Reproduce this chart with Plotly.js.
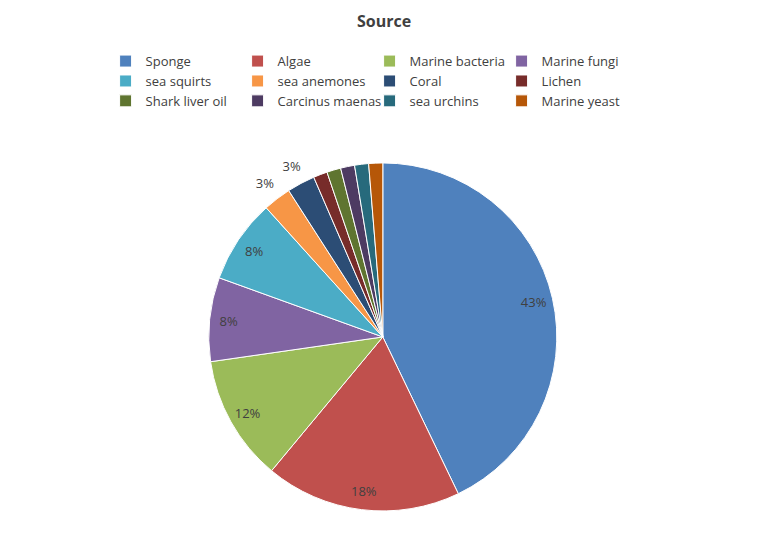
<!DOCTYPE html>
<html>
<head>
<meta charset="utf-8">
<script src="https://cdn.plot.ly/plotly-3.0.1.min.js"></script>
<style>
  html, body { margin: 0; padding: 0; background: #fff; }
  #chart { width: 768px; height: 550px; }
</style>
</head>
<body>
<div id="chart"></div>
<script>
// sources of marine compounds, counts
const sources = [
  "Sponge", "Algae", "Marine bacteria", "Marine fungi",
  "sea squirts", "sea anemones", "Coral", "Lichen",
  "Shark liver oil", "Carcinus maenas", "sea urchins", "Marine yeast",
];
const counts = [33, 14, 9, 6, 6, 2, 2, 1, 1, 1, 1, 1];
const sliceColors = [
  "#4F81BD", "#C0504D", "#9BBB59", "#8064A2",
  "#4BACC6", "#F79646", "#2C4D75", "#772C2A",
  "#5F7530", "#4D3B62", "#276A7C", "#B65708",
];

const textColor = "#404040";
const labelFont = { family: "Open Sans, sans-serif", size: 13, color: textColor };
const clear = counts.map(() => "rgba(0,0,0,0)");

// excel puts labels near the rim, so the labels come from see-through rings
const pieDomain = { x: [0.208, 0.788], y: [0.0765, 0.759] };
const outerDomain = { x: [0.1483, 0.8483], y: [0.0059, 0.8294] };

let pieTrace = {
  type: "pie",
  labels: sources,
  values: counts,
  sort: false,
  direction: "clockwise",
  rotation: 0,
  textinfo: "none",
  marker: {
    colors: sliceColors,
    line: { color: "#ffffff", width: 1 },
  },
  domain: pieDomain,
};

// labels of the bigger slices, just inside the rim
let rimLabels = {
  type: "pie",
  labels: sources,
  values: counts,
  sort: false,
  direction: "clockwise",
  rotation: 0,
  hole: 0.78,
  showlegend: false,
  texttemplate: "%{percent:.0%}",
  textposition: counts.map((c) => (c >= 5 ? "inside" : "none")),
  insidetextorientation: "horizontal",
  textfont: labelFont,
  insidetextfont: labelFont,
  marker: { colors: clear, line: { width: 0 } },
  domain: pieDomain,
};

// labels of the 3% slices, just outside the rim
let outerLabels = {
  type: "pie",
  labels: sources,
  values: counts,
  sort: false,
  direction: "clockwise",
  rotation: 0,
  hole: 0.838,
  showlegend: false,
  texttemplate: "%{percent:.0%}",
  textposition: counts.map((c) => (c >= 2 && c < 5 ? "inside" : "none")),
  insidetextorientation: "horizontal",
  textfont: labelFont,
  insidetextfont: labelFont,
  marker: { colors: clear, line: { width: 0 } },
  domain: outerDomain,
};

let layout = {
  width: 768,
  height: 550,
  paper_bgcolor: "#ffffff",
  plot_bgcolor: "#ffffff",
  margin: { l: 84, r: 84, t: 40, b: 0 },
  font: { family: "Open Sans, sans-serif", size: 13, color: textColor },
  title: {
    text: "<b>Source</b>",
    x: 0.5,
    xref: "paper",
    y: 0.962,
    yanchor: "middle",
    font: { family: "Open Sans, sans-serif", size: 16, color: textColor },
  },
  showlegend: true,
  legend: {
    orientation: "h",
    x: 0.476,
    xanchor: "center",
    y: 0.988,
    yanchor: "top",
    entrywidth: 87,
    entrywidthmode: "pixels",
    traceorder: "normal",
    font: { family: "Open Sans, sans-serif", size: 13, color: textColor },
  },
};

let config = { displayModeBar: false, staticPlot: true };

Plotly.newPlot("chart", [pieTrace, rimLabels, outerLabels], layout, config);
</script>
</body>
</html>
